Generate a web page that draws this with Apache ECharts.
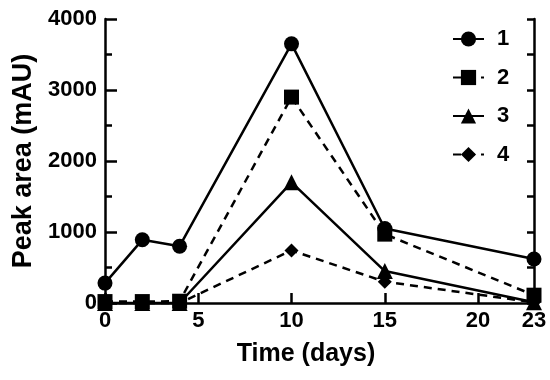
<!DOCTYPE html>
<html>
<head>
<meta charset="utf-8">
<script src="https://cdn.jsdelivr.net/npm/echarts@6/dist/echarts.min.js"></script>
<style>html,body{margin:0;padding:0;background:#fff;}#c{width:550px;height:380px;}</style>
</head>
<body>
<div id="c"></div>
<script>
var days = [0, 2, 4, 10, 15, 23];
var names = ['1', '2', '3', '4'];
var s1 = [280, 890, 800, 3650, 1050, 620];
var s2 = [20, 20, 25, 2900, 970, 110];
var s3 = [0, 0, 0, 1700, 450, 10];
var s4 = [0, 0, 0, 740, 300, 10];
var xTitle = 'Time (days)';
var yTitle = 'Peak area (mAU)';

function pairs(v) { return days.map(function (d, i) { return [d, v[i]]; }); }
var FONT = '"Liberation Sans", Arial, sans-serif';
var chart = echarts.init(document.getElementById('c'), null, {renderer: 'canvas'});
function ser(name, vals, symbol, size, dashed, z) {
  return {
    name: name, type: 'line', data: pairs(vals), symbol: symbol, symbolSize: size,
    z: z, clip: false,
    lineStyle: {color: '#000', width: 2.5, type: dashed ? [8, 6] : 'solid'},
    itemStyle: {color: '#000', borderWidth: 0}
  };
}
chart.setOption({
  animation: false,
  backgroundColor: '#fff',
  grid: {left: 105, right: 16, top: 19, bottom: 77},
  legend: {
    orient: 'vertical', left: 447, top: 23, itemWidth: 31, itemHeight: 19, itemGap: 16.5,
    textStyle: {fontFamily: FONT, fontWeight: 'bold', fontSize: 22, color: '#000', padding: [0, 0, 0, 8]},
    data: names
  },
  xAxis: {
    type: 'value', min: 0, max: 23, interval: 5,
    name: xTitle, nameLocation: 'middle', nameGap: 39,
    nameTextStyle: {fontFamily: FONT, fontWeight: 'bold', fontSize: 25, color: '#000', padding: [0, 27, 0, 0]},
    axisLine: {show: true, lineStyle: {color: '#000', width: 2.5}},
    axisTick: {show: true, inside: true, length: 10, lineStyle: {color: '#000', width: 2.5}},
    axisLabel: {fontFamily: FONT, fontWeight: 'bold', fontSize: 22, color: '#000', margin: 7},
    splitLine: {show: false}
  },
  yAxis: [{
    type: 'value', min: 0, max: 4000, interval: 1000,
    name: yTitle, nameLocation: 'middle', nameGap: 66,
    nameTextStyle: {fontFamily: FONT, fontWeight: 'bold', fontSize: 27, color: '#000'},
    axisLine: {show: true, lineStyle: {color: '#000', width: 2.5}},
    axisTick: {show: true, inside: true, length: 12, lineStyle: {color: '#000', width: 2.5}},
    minorTick: {show: true, splitNumber: 2, length: 7, lineStyle: {color: '#000', width: 2.5}},
    axisLabel: {fontFamily: FONT, fontWeight: 'bold', fontSize: 22, color: '#000', margin: 8,
      formatter: function (v) { return String(v); }},
    splitLine: {show: false}
  }, {
    type: 'value', min: 0, max: 4000, interval: 500, position: 'right',
    axisLine: {show: true, lineStyle: {color: '#000', width: 2.5}},
    axisTick: {show: true, inside: true, length: 7, lineStyle: {color: '#000', width: 2.5}},
    axisLabel: {show: false},
    splitLine: {show: false}
  }],
  series: [
    ser('1', s1, 'circle', 15, false, 3),
    ser('2', s2, 'rect', 15, true, 5),
    ser('3', s3, 'triangle', 16, false, 2),
    ser('4', s4, 'diamond', 14, true, 2)
  ]
});
</script>
</body>
</html>
